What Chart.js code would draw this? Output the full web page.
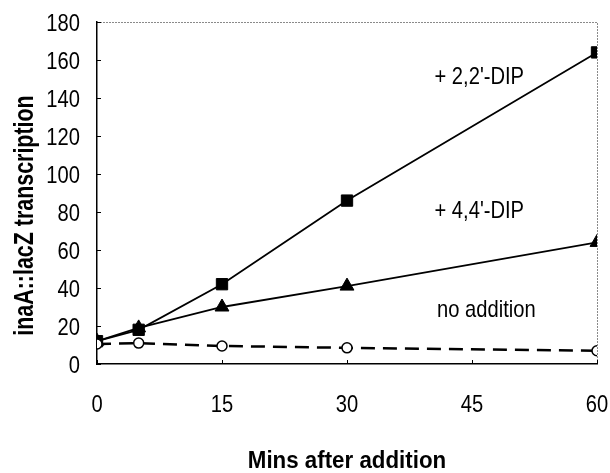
<!DOCTYPE html>
<html><head><meta charset="utf-8">
<script src="https://cdn.jsdelivr.net/npm/chart.js@4/dist/chart.umd.min.js"></script>
<style>html,body{margin:0;padding:0;background:#fff}#wrap{width:610px;height:473px}</style>
</head><body><div id="wrap"><canvas id="c"></canvas></div>
<script>
const minutes = [0, 5, 15, 30, 60];
const dip22 = [12, 18, 42, 86, 164];
const dip44 = [12, 19, 30, 41, 64];
const noAddition = [10.5, 11, 9.5, 8.5, 7];
const xTicks = [0, 15, 30, 45, 60];
const yTicks = [0, 20, 40, 60, 80, 100, 120, 140, 160, 180];
const seriesLabels = ["+ 2,2'-DIP", "+ 4,4'-DIP", "no addition"];
const labelAnchors = [[40.5, 147.5], [40.5, 77], [40.8, 24.5]];
const xTitle = 'Mins after addition';
const yTitle = 'inaA::lacZ transcription';

const FONT = "'Liberation Sans', Arial, sans-serif";
const toXY = v => minutes.map((m, i) => ({x: m, y: v[i]}));

function condensed(ctx, s, x, y, sx, align, rot) {
  ctx.save();
  ctx.translate(x, y);
  if (rot) ctx.rotate(rot);
  ctx.scale(sx, 1);
  ctx.textAlign = align;
  ctx.textBaseline = 'alphabetic';
  ctx.fillText(s, 0, 0);
  ctx.restore();
}

const decor = {
  id: 'decor',
  afterDraw(chart) {
    const {ctx, chartArea: a, scales: {x, y}} = chart;
    ctx.save();
    // dotted top & right frame
    ctx.strokeStyle = '#8a8a8a';
    ctx.lineWidth = 1;
    ctx.setLineDash([2, 1]);
    ctx.beginPath();
    ctx.moveTo(a.left, a.top + 0.5); ctx.lineTo(a.right + 0.5, a.top + 0.5);
    ctx.lineTo(a.right + 0.5, a.bottom);
    ctx.stroke();
    ctx.setLineDash([]);
    // inward ticks
    ctx.strokeStyle = '#000';
    ctx.lineWidth = 1;
    ctx.beginPath();
    yTicks.forEach(t => { const py = Math.round(y.getPixelForValue(t)) + 0.5; ctx.moveTo(a.left, py); ctx.lineTo(a.left + 4, py); });
    xTicks.forEach(t => { const px = Math.round(x.getPixelForValue(t)) + 0.5; ctx.moveTo(px, a.bottom); ctx.lineTo(px, a.bottom - 4); });
    ctx.stroke();
    ctx.fillStyle = '#000';
    // tick labels
    ctx.font = "24px " + FONT;
    yTicks.forEach(t => condensed(ctx, String(t), a.left - 17, y.getPixelForValue(t) + 8.5, 0.84, 'right'));
    xTicks.forEach(t => condensed(ctx, String(t), x.getPixelForValue(t), a.bottom + 48, 0.84, 'center'));
    // series labels
    seriesLabels.forEach((s, i) => {
      condensed(ctx, s, x.getPixelForValue(labelAnchors[i][0]), y.getPixelForValue(labelAnchors[i][1]), 0.84, 'left');
    });
    // axis titles
    ctx.font = "bold 23px " + FONT;
    condensed(ctx, xTitle, (a.left + a.right) / 2, 468, 0.97, 'center');
    ctx.font = "bold 28px " + FONT;
    condensed(ctx, yTitle, 33, 215.5, 0.765, 'center', -Math.PI / 2);
    ctx.restore();
  }
};

new Chart(document.getElementById('c'), {
  type: 'scatter',
  data: {
    datasets: [
      {label: seriesLabels[2], data: toXY(noAddition), showLine: true, borderColor: '#000', borderWidth: 2.5, borderDash: [14, 8],
       pointStyle: 'circle', pointRadius: 5, pointBackgroundColor: '#fff', pointBorderColor: '#000', pointBorderWidth: 1.5},
      {label: seriesLabels[1], data: toXY(dip44), showLine: true, borderColor: '#000', borderWidth: 1.8,
       pointStyle: 'triangle', pointRadius: 8, pointBackgroundColor: '#000', pointBorderColor: '#000', pointBorderWidth: 1},
      {label: seriesLabels[0], data: toXY(dip22), showLine: true, borderColor: '#000', borderWidth: 1.8,
       pointStyle: 'rect', pointRadius: 8, pointBackgroundColor: '#000', pointBorderColor: '#000', pointBorderWidth: 1}
    ]
  },
  options: {
    responsive: true, maintainAspectRatio: false, animation: false,
    layout: {padding: {top: 22, right: 13, left: 0, bottom: 0}},
    plugins: {legend: {display: false}, tooltip: {enabled: false}},
    scales: {
      x: {
        type: 'linear', min: 0, max: 60,
        afterBuildTicks: s => { s.ticks = xTicks.map(v => ({value: v})); },
        grid: {display: false, drawTicks: false},
        border: {display: true, color: '#000', width: 1.5},
        ticks: {display: false},
        title: {display: false, text: xTitle},
        afterFit: s => { s.height = 109; }
      },
      y: {
        type: 'linear', min: 0, max: 180,
        afterBuildTicks: s => { s.ticks = yTicks.map(v => ({value: v})); },
        grid: {display: false, drawTicks: false},
        border: {display: true, color: '#000', width: 1.5},
        ticks: {display: false},
        title: {display: false, text: yTitle},
        afterFit: s => { s.width = 97; }
      }
    }
  },
  plugins: [decor]
});
</script></body></html>
